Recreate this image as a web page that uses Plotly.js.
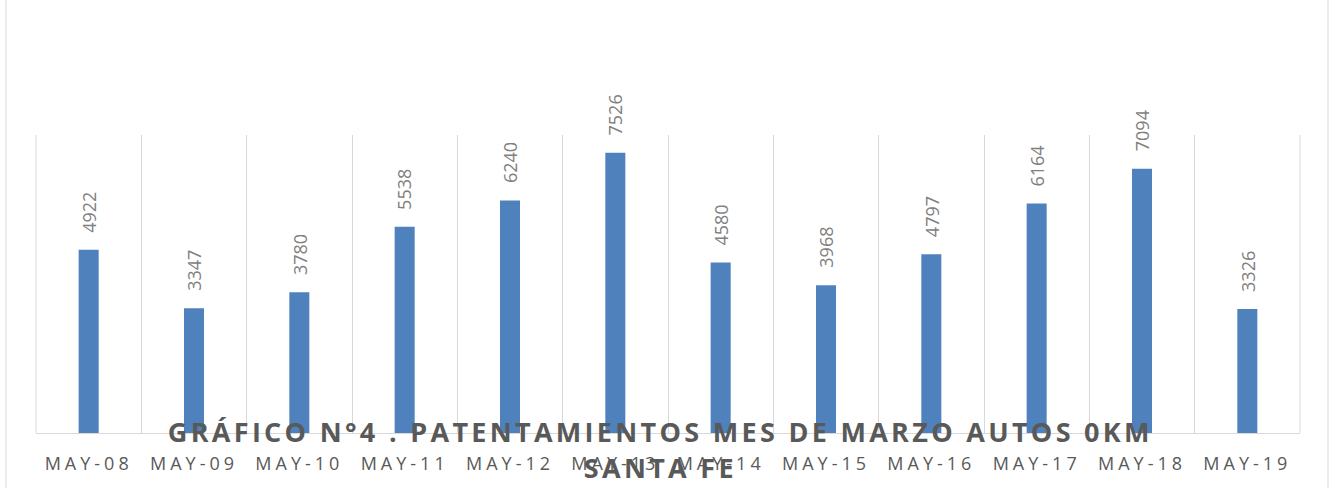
<!DOCTYPE html>
<html><head><meta charset="utf-8">
<script src="https://cdn.plot.ly/plotly-3.0.1.min.js"></script>
<style>
body{margin:0;padding:0;background:#fff;}
#chart{width:1330px;height:488px;}
.xtick text{letter-spacing:4px;}
</style>
</head><body>
<div id="chart"></div>
<script>
const categories = ["MAY-08","MAY-09","MAY-10","MAY-11","MAY-12","MAY-13","MAY-14","MAY-15","MAY-16","MAY-17","MAY-18","MAY-19"];
const values = [4922,3347,3780,5538,6240,7526,4580,3968,4797,6164,7094,3326];
const titleLine1 = "GRÁFICO N°4 . PATENTAMIENTOS MES DE MARZO AUTOS 0KM";
const titleLine2 = "SANTA FE";

const trace = {
  type:'bar', x:categories, y:values,
  marker:{color:'#4f81bd'},
  hoverinfo:'none'
};
const annotations = categories.map((c,i)=>({
  x:c, y:values[i], xref:'x', yref:'y', text:String(values[i]),
  showarrow:false, textangle:-90, yanchor:'bottom', xanchor:'center', yshift:15,
  font:{family:'"Open Sans", sans-serif', size:18, color:'#808080'}
}));
const titleFont = {family:'"Open Sans", sans-serif', size:27, color:'#595959', weight:'bold'};
annotations.push({
  xref:'paper', yref:'paper', x:0.494, y:(433-431)/298, xanchor:'center', yanchor:'middle',
  text:titleLine1, showarrow:false, font:titleFont
});
annotations.push({
  xref:'paper', yref:'paper', x:0.494, y:(433-467)/298, xanchor:'center', yanchor:'middle',
  text:titleLine2, showarrow:false, font:titleFont
});
const layout = {
  width:1330, height:488,
  margin:{l:36, r:30, t:135, b:55},
  paper_bgcolor:'#fff', plot_bgcolor:'#fff',
  bargap:0.81,
  showlegend:false,
  xaxis:{
    type:'category', tickson:'boundaries', showgrid:true, gridcolor:'#d9d9d9', gridwidth:1,
    ticks:'', showline:true, linecolor:'#d9d9d9', linewidth:1, ticklabelstandoff:14,
    tickfont:{family:'"Open Sans", sans-serif', size:18, color:'#595959'},
    fixedrange:true
  },
  yaxis:{range:[0,8000], showgrid:false, showticklabels:false, zeroline:false, ticks:'', fixedrange:true},
  annotations:annotations,
  shapes:[
    {type:'rect', xref:'paper', yref:'paper',
     x0:(6-36)/1264, x1:(1328-36)/1264, y0:(55-485)/298, y1:(55+298+133)/298,
     line:{color:'#d9d9d9', width:1}, fillcolor:'rgba(0,0,0,0)', layer:'below'},
    {type:'line', xref:'paper', yref:'paper', x0:0, x1:0, y0:0, y1:1, line:{color:'#d9d9d9', width:1}},
    {type:'line', xref:'paper', yref:'paper', x0:1, x1:1, y0:0, y1:1, line:{color:'#d9d9d9', width:1}}
  ]
};
Plotly.newPlot('chart',[trace],layout,{displayModeBar:false,staticPlot:true}).then(()=>{
  document.querySelectorAll('.annotation-text').forEach(t=>{
    const s=t.textContent;
    if(s===titleLine1||s===titleLine2) t.style.letterSpacing='3.3px';
  });
});
</script>
</body></html>
